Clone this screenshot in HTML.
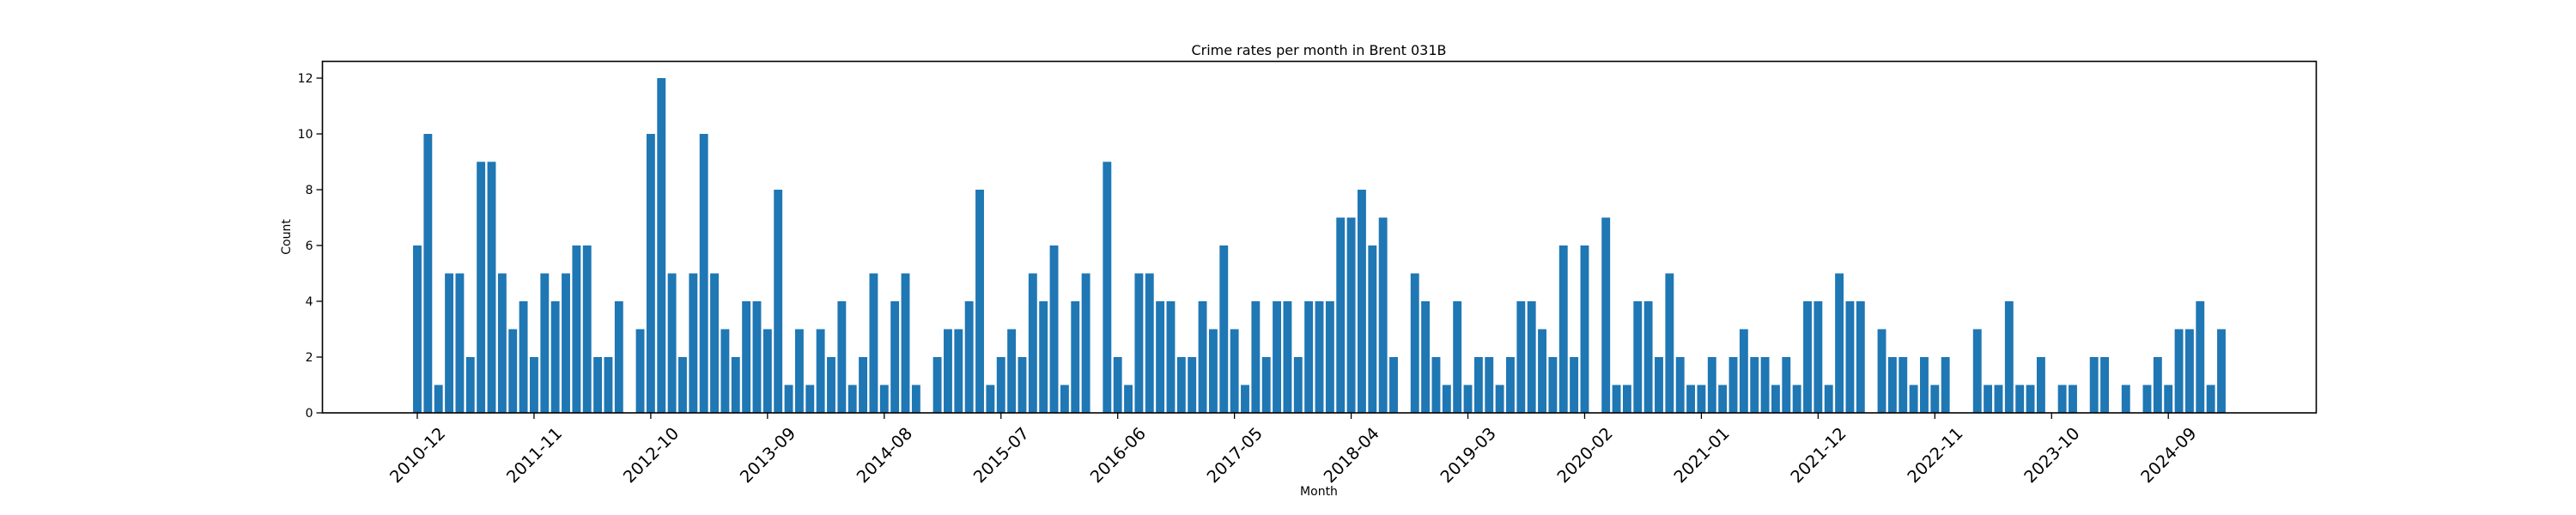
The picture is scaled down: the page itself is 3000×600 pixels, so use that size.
<!DOCTYPE html>
<html><head><meta charset="utf-8"><style>
html,body{margin:0;padding:0;background:#fff;}
svg{display:block;font-family:"DejaVu Sans","Liberation Sans",sans-serif;}
</style></head><body>
<svg id="chart" width="3000" height="600" viewBox="0 0 3000 600">
<rect width="3000" height="600" fill="#fff"/>
<text x="1536" y="64" font-size="16" text-anchor="middle" fill="#000">Crime rates per month in Brent 031B</text>
<text x="1536" y="577" font-size="14" text-anchor="middle" fill="#000">Month</text>
<text transform="translate(338,276) rotate(-90)" font-size="14" text-anchor="middle" fill="#000">Count</text>
<g id="bars"></g>
<g id="yticks"></g>
<g id="xticks"></g>
<rect x="375.5" y="71.5" width="2322" height="409.5" fill="none" stroke="#000" stroke-width="1.6"/>
</svg>
<script>
const startYear = 2010;
const startMonth = 12;
const counts = [6,10,1,5,5,2,9,9,5,3,4,2,5,4,5,6,6,2,2,4,0,
3,10,12,5,2,5,10,5,3,2,4,4,3,8,1,3,1,3,2,4,1,2,5,1,4,5,1,0,
2,3,3,4,8,1,2,3,2,5,4,6,1,4,5,0,
9,2,1,5,5,4,4,2,2,4,3,6,3,1,4,2,4,4,2,4,4,4,7,7,8,6,7,2,0,
5,4,2,1,4,1,2,2,1,2,4,4,3,2,6,2,6,0,
7,1,1,4,4,2,5,2,1,1,2,1,2,3,2,2,1,2,1,4,4,1,5,4,4,0,
3,2,2,1,2,1,2,0,0,
3,1,1,4,1,1,2,0,1,1,0,2,2,0,1,0,
1,2,1,3,3,4,1,3];
const yTicks = [0,2,4,6,8,10,12];
const xTickLabels = ["2010-12","2011-11","2012-10","2013-09","2014-08","2015-07","2016-06","2017-05","2018-04","2019-03","2020-02","2021-01","2021-12","2022-11","2023-10","2024-09"];

const NS = "http://www.w3.org/2000/svg";
const plotL = 375.5, plotR = 2697.5, plotT = 71.5, plotB = 481;
const n = counts.length;
const xMin = -0.4 - 0.05*(n-1+0.8), xMax = n-1+0.4 + 0.05*(n-1+0.8);
const yMax = 12.6;
function xScale(i){ return plotL + (i - xMin)/(xMax - xMin)*(plotR-plotL); }
function yScale(v){ return plotB - v/yMax*(plotB-plotT); }
function monthIndex(label){
  const [y,m] = label.split("-").map(Number);
  return (y-startYear)*12 + (m-startMonth);
}
const bw = 0.8*(xScale(1)-xScale(0));
const bars = document.getElementById("bars");
counts.forEach((v,i)=>{
  const r = document.createElementNS(NS,"rect");
  const y = yScale(v);
  r.setAttribute("x", xScale(i)-bw/2);
  r.setAttribute("y", y);
  r.setAttribute("width", bw);
  r.setAttribute("height", Math.max(0, plotB - y));
  r.setAttribute("fill", "#1f77b4");
  
  
  bars.appendChild(r);
});
const yg = document.getElementById("yticks");
yTicks.forEach(t=>{
  const y = yScale(t);
  const l = document.createElementNS(NS,"line");
  l.setAttribute("x1", plotL-7); l.setAttribute("x2", plotL);
  l.setAttribute("y1", y); l.setAttribute("y2", y);
  l.setAttribute("stroke","#000"); l.setAttribute("stroke-width","1.3");
  
  
  yg.appendChild(l);
  const tx = document.createElementNS(NS,"text");
  tx.setAttribute("x", plotL-11); tx.setAttribute("y", y+5);
  tx.setAttribute("font-size","14"); tx.setAttribute("text-anchor","end");
  tx.textContent = t;
  
  
  yg.appendChild(tx);
});
const xg = document.getElementById("xticks");
xTickLabels.forEach(lab=>{
  const x = xScale(monthIndex(lab));
  const l = document.createElementNS(NS,"line");
  l.setAttribute("x1", x); l.setAttribute("x2", x);
  l.setAttribute("y1", plotB); l.setAttribute("y2", plotB+7);
  l.setAttribute("stroke","#000"); l.setAttribute("stroke-width","1.3");
  
  
  xg.appendChild(l);
  const tx = document.createElementNS(NS,"text");
  tx.setAttribute("transform", "translate("+x+",530) rotate(-45)");
  tx.setAttribute("font-size","19.5"); tx.setAttribute("text-anchor","middle");
  tx.setAttribute("dy","7");
  tx.textContent = lab;
  
  
  xg.appendChild(tx);
});
</script>
</body></html>
